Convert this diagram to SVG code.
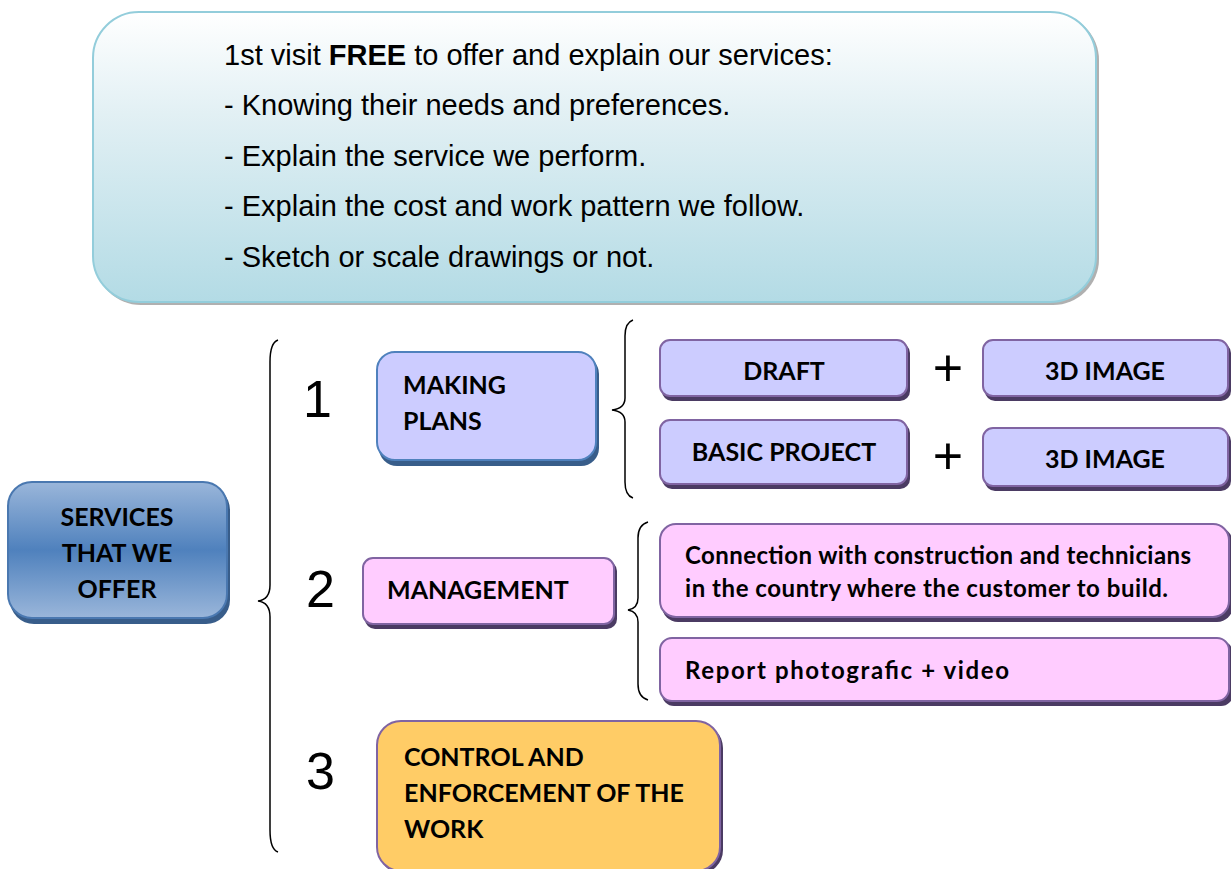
<svg xmlns="http://www.w3.org/2000/svg" width="1231" height="869" viewBox="0 0 1231 869">
<defs>
<linearGradient id="gTop" x1="0" y1="0" x2="0" y2="1">
<stop offset="0" stop-color="#ffffff"/>
<stop offset="0.35" stop-color="#e2f0f4"/>
<stop offset="1" stop-color="#b3dbe5"/>
</linearGradient>
<linearGradient id="gBlue" x1="0" y1="0" x2="0" y2="1">
<stop offset="0" stop-color="#9ab6da"/>
<stop offset="0.5" stop-color="#4f81bd"/>
<stop offset="1" stop-color="#9ab6da"/>
</linearGradient>
<style>
.t{font-family:"Liberation Sans",Arial,sans-serif;font-size:29px;fill:#000}
.n{font-family:"Liberation Sans",Arial,sans-serif;font-size:52px;fill:#000}
.b{font-family:Lato,"Open Sans",sans-serif;font-weight:bold;font-size:25px;fill:#000}
.s{font-family:Lato,"Open Sans",sans-serif;font-weight:bold;font-size:24px;fill:#000}
.br{fill:none;stroke:#000;stroke-width:1.5}
.shb{fill:#385d8a}
.shp{fill:#4b3b63}
.lav{fill:#ccccff;stroke:#8064a2;stroke-width:2}
.lavb{fill:#ccccff;stroke:#4f81bd;stroke-width:2}
.pink{fill:#ffccff;stroke:#8064a2;stroke-width:2}
.org{fill:#ffcc66;stroke:#8064a2;stroke-width:2}
</style>
</defs>
<rect width="1231" height="869" fill="#fff"/>

<g id="intro">
<rect x="95" y="14" width="1004" height="291" rx="46" fill="#b0b0b0"/>
<rect x="93" y="12" width="1003" height="290" rx="46" fill="url(#gTop)" stroke="#93cddb" stroke-width="2"/>
<text class="t" x="224" y="65">1st visit <tspan font-weight="bold">FREE</tspan> to offer and explain our services:</text>
<text class="t" x="224" y="115">- Knowing their needs and preferences.</text>
<text class="t" x="224" y="166">- Explain the service we perform.</text>
<text class="t" x="224" y="216">- Explain the cost and work pattern we follow.</text>
<text class="t" x="224" y="267">- Sketch or scale drawings or not.</text>
</g>

<g id="services">
<rect x="10" y="486" width="220" height="138" rx="24" class="shb"/>
<rect x="8" y="482" width="219" height="136" rx="24" fill="url(#gBlue)" stroke="#4a78b0" stroke-width="2"/>
<text class="b" text-anchor="middle" x="117" y="526">SERVICES</text>
<text class="b" text-anchor="middle" x="117" y="562">THAT WE</text>
<text class="b" text-anchor="middle" x="117" y="598">OFFER</text>
</g>

<g id="connectors">
<path class="br" d="M278,340 C272,342 270,350 270,362 L270,585 C270,595 266,600 258,601 C266,602 270,607 270,617 L270,830 C270,842 272,850 278,852"/>
<path class="br" d="M633,320 C627,322 625,328 625,336 L625,398 C625,405 620,409 612,410 C620,411 625,415 625,422 L625,482 C625,490 627,496 633,498"/>
<path class="br" d="M648,522 C641,524 638,530 638,538 L638,598 C638,605 634,609 628,610 C634,611 638,615 638,622 L638,684 C638,692 641,698 648,700"/>
</g>

<g id="num1"><text class="n" x="303" y="417">1</text></g>
<g id="num2"><text class="n" x="306" y="607">2</text></g>
<g id="num3"><text class="n" x="306" y="789">3</text></g>

<g id="making-plans">
<rect x="379" y="356" width="220" height="110" rx="18" class="shb"/>
<rect x="377" y="352" width="219" height="108" rx="18" class="lavb"/>
<text class="b" x="403" y="394">MAKING</text>
<text class="b" x="403" y="430">PLANS</text>
</g>

<g id="draft">
<rect x="662" y="343" width="248" height="58" rx="10" class="shp"/>
<rect x="660" y="340" width="247" height="56" rx="10" class="lav"/>
<text class="b" text-anchor="middle" x="784" y="380">DRAFT</text>
</g>
<g id="plus1"><text class="n" x="948" y="386" text-anchor="middle" font-size="42">+</text></g>
<g id="image3d-1">
<rect x="985" y="343" width="246" height="58" rx="10" class="shp"/>
<rect x="983" y="340" width="245" height="56" rx="10" class="lav"/>
<text class="b" text-anchor="middle" x="1105" y="380">3D IMAGE</text>
</g>

<g id="basic-project">
<rect x="662" y="423" width="248" height="66" rx="10" class="shp"/>
<rect x="660" y="420" width="247" height="64" rx="10" class="lav"/>
<text class="b" text-anchor="middle" x="784" y="461">BASIC PROJECT</text>
</g>
<g id="plus2"><text class="n" x="948" y="474" text-anchor="middle" font-size="42">+</text></g>
<g id="image3d-2">
<rect x="985" y="431" width="246" height="60" rx="10" class="shp"/>
<rect x="983" y="428" width="245" height="58" rx="10" class="lav"/>
<text class="b" text-anchor="middle" x="1105" y="468">3D IMAGE</text>
</g>

<g id="management">
<rect x="365" y="561" width="252" height="68" rx="10" class="shp"/>
<rect x="363" y="558" width="251" height="66" rx="10" class="pink"/>
<text class="b" x="387" y="599">MANAGEMENT</text>
</g>

<g id="connection">
<rect x="662" y="527" width="571" height="95" rx="16" class="shp"/>
<rect x="660" y="524" width="569" height="93" rx="16" class="pink"/>
<text class="s" x="685" y="564" textLength="506" lengthAdjust="spacing">Connection with construction and technicians</text>
<text class="s" x="685" y="597" textLength="483" lengthAdjust="spacing">in the country where the customer to build.</text>
</g>

<g id="report">
<rect x="662" y="641" width="571" height="65" rx="12" class="shp"/>
<rect x="660" y="638" width="569" height="63" rx="12" class="pink"/>
<text class="s" x="685" y="679" textLength="324" lengthAdjust="spacing">Report photografic + video</text>
</g>

<g id="control">
<rect x="379" y="724" width="344" height="150" rx="24" class="shp"/>
<rect x="377" y="721" width="343" height="150" rx="24" class="org"/>
<text class="b" x="404" y="766">CONTROL AND</text>
<text class="b" x="404" y="802">ENFORCEMENT OF THE</text>
<text class="b" x="404" y="838">WORK</text>
</g>
</svg>
